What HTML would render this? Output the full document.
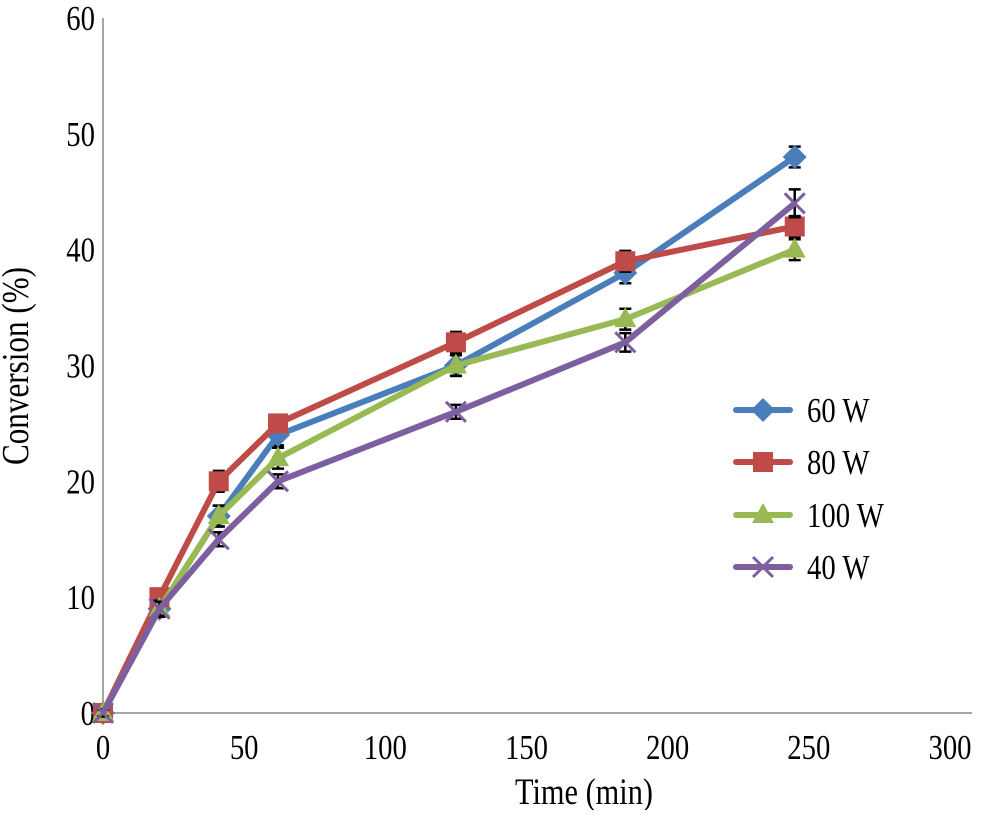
<!DOCTYPE html>
<html><head><meta charset="utf-8"><style>
body{margin:0;background:#fff}
svg text{font-family:"Liberation Serif",serif;fill:#000}
</style></head><body>
<svg id="chart" width="981" height="810" viewBox="0 0 981 810" xmlns="http://www.w3.org/2000/svg">
<g id="axes"></g><g id="series"></g><g id="legend"></g>
</svg>
<script>
const times = [0, 20, 41, 62, 125, 185, 245];
const seriesNames = ["60 W", "80 W", "100 W", "40 W"];
const s60 = [0, 9, 17, 24, 30, 38, 48];
const s80 = [0, 10, 20, 25, 32, 39, 42];
const s100 = [0, 9, 17, 22, 30, 34, 40];
const s40 = [0, 9, 15, 20, 26, 32, 44];
const err60 = [0.3, 0.6, 0.9, 0.9, 0.9, 0.9, 0.9];
const err80 = [0.3, 0.6, 0.9, 0.6, 0.9, 0.9, 0.9];
const err100 = [0.3, 0.7, 0.9, 0.9, 0.9, 0.9, 0.9];
const err40 = [0.3, 0.6, 0.6, 0.6, 0.6, 0.8, 1.2];
const xTicks = [0, 50, 100, 150, 200, 250, 300];
const yTicks = [0, 10, 20, 30, 40, 50, 60];

const NS = "http://www.w3.org/2000/svg";
const X0 = 103, X1 = 950, Y0 = 713, Y1 = 18;
const xs = v => X0 + (v / 300) * (X1 - X0);
const ys = v => Y0 - (v / 60) * (Y0 - Y1);
function mk(tag, attrs, parent, txt) {
  const e = document.createElementNS(NS, tag);
  for (const k in attrs) e.setAttribute(k, attrs[k]);
  if (txt !== undefined) e.textContent = txt;
  parent.appendChild(e);
  return e;
}
function txt(parent, x, y, anchor, size, s, rot) {
  return mk("text", {x: 0, y: 0, "text-anchor": anchor, "font-size": size,
    transform: `translate(${x},${y})` + (rot ? " rotate(-90)" : "") + " scale(0.82,1)"}, parent, s);
}
const axes = document.getElementById("axes");
let e;
e = mk("line", {x1: X0, y1: Y1, x2: X0, y2: Y0 + 4, stroke: "#a6a6a6", "stroke-width": 2}, axes);


e = mk("line", {x1: X0 - 4, y1: Y0, x2: 972, y2: Y0, stroke: "#a6a6a6", "stroke-width": 2}, axes);


yTicks.forEach(t => {
  e = txt(axes, X0 - 8, ys(t) + 12, "end", 35, String(t));
  
  
});
xTicks.forEach(t => {
  e = txt(axes, xs(t), 759, "middle", 35, String(t));
  
  
});
e = txt(axes, 584, 804, "middle", 37, "Time (min)");


e = txt(axes, 28, 366, "middle", 38, "Conversion (%)", true);



const colors = ["#4a7ebb", "#be4b48", "#98b954", "#7d5fa0"];
const data = [s60, s80, s100, s40];
const errs = [err60, err80, err100, err40];
const markers = ["diamond", "square", "triangle", "x"];
function marker(g, type, x, y, c) {
  if (type === "diamond") return mk("polygon", {points: `${x},${y-12} ${x+12},${y} ${x},${y+12} ${x-12},${y}`, fill: c}, g);
  if (type === "square") return mk("rect", {x: x-10, y: y-10, width: 20, height: 20, fill: c}, g);
  if (type === "triangle") return mk("polygon", {points: `${x},${y-12} ${x+11},${y+8} ${x-11},${y+8}`, fill: c}, g);
  return mk("path", {d: `M${x-10},${y-10}L${x+10},${y+10}M${x+10},${y-10}L${x-10},${y+10}`, stroke: c, "stroke-width": 3}, g);
}
const sg = document.getElementById("series");
data.forEach((vals, i) => {
  const g = mk("g", {}, sg);
  
  
  vals.forEach((v, j) => {
    const x = xs(times[j]), a = ys(v + errs[i][j]), b = ys(v - errs[i][j]);
    const eb = mk("path", {d: `M${x},${a}L${x},${b}M${x-6},${a}L${x+6},${a}M${x-6},${b}L${x+6},${b}`, stroke: "#000", "stroke-width": 2.5, fill: "none"}, g);
    
    
  });
  const ln = mk("polyline", {points: vals.map((v, j) => xs(times[j]) + "," + ys(v)).join(" "), fill: "none", stroke: colors[i], "stroke-width": 6, "stroke-linejoin": "round"}, g);
  
  
  vals.forEach((v, j) => {
    const m = marker(g, markers[i], xs(times[j]), ys(v), colors[i]);
    
    
  });
});
const lg = document.getElementById("legend");


const legY = [410, 462, 515, 567];
seriesNames.forEach((n, i) => {
  const g = mk("g", {}, lg);
  
  
  mk("line", {x1: 736, y1: legY[i], x2: 790, y2: legY[i], stroke: colors[i], "stroke-width": 6, "stroke-linecap": "round"}, g);
  marker(g, markers[i], 763, legY[i], colors[i]);
  txt(g, 807, legY[i] + 12, "start", 35, n);
});
</script>
</body></html>
